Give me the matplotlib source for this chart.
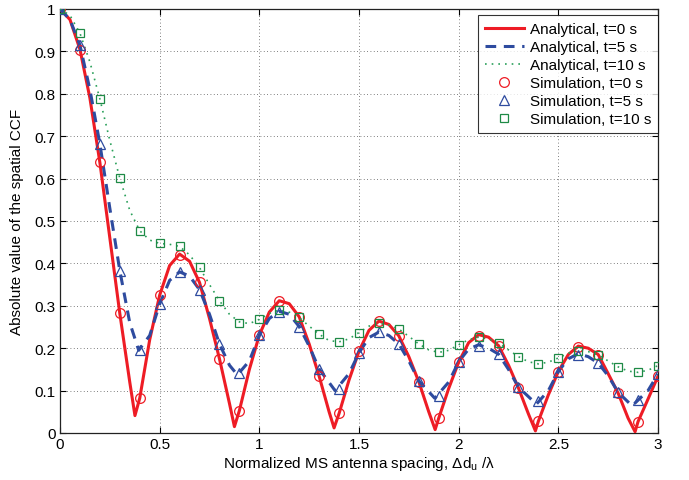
import numpy as np
import matplotlib
matplotlib.use("Agg")
import matplotlib.pyplot as plt

plt.rcParams['font.family'] = ['Liberation Sans', 'DejaVu Sans']
plt.rcParams['mathtext.default'] = 'regular'

# ---- analytical curves ----
x_a0 = [0, 0.05, 0.1, 0.15, 0.2, 0.25, 0.3, 0.35, 0.376, 0.4, 0.45, 0.5, 0.55, 0.6, 0.65, 0.7, 0.75, 0.8,
        0.85, 0.875, 0.9, 0.95, 1.0, 1.05, 1.1, 1.15, 1.2, 1.25, 1.3, 1.35, 1.375, 1.4, 1.45, 1.5, 1.55,
        1.6, 1.65, 1.7, 1.75, 1.8, 1.85, 1.882, 1.9, 1.95, 2.0, 2.05, 2.1, 2.15, 2.2, 2.25, 2.3, 2.35,
        2.385, 2.4, 2.45, 2.5, 2.55, 2.6, 2.65, 2.7, 2.75, 2.8, 2.85, 2.885, 2.9, 2.95, 3.0]
y_a0 = [1.0, 0.975, 0.905, 0.79, 0.638, 0.46, 0.282, 0.12, 0.041, 0.082, 0.22, 0.325, 0.395, 0.422, 0.405,
        0.355, 0.27, 0.175, 0.07, 0.015, 0.053, 0.15, 0.231, 0.285, 0.312, 0.305, 0.274, 0.21, 0.134, 0.05,
        0.012, 0.046, 0.125, 0.193, 0.242, 0.264, 0.256, 0.229, 0.18, 0.121, 0.05, 0.008, 0.035, 0.105,
        0.167, 0.213, 0.232, 0.226, 0.206, 0.16, 0.106, 0.045, 0.005, 0.028, 0.09, 0.145, 0.185, 0.205,
        0.2, 0.185, 0.14, 0.094, 0.035, 0.003, 0.027, 0.08, 0.134]

x_a5 = [0, 0.05, 0.1, 0.15, 0.2, 0.25, 0.3, 0.35, 0.395, 0.45, 0.5, 0.55, 0.6, 0.65, 0.7, 0.75, 0.8, 0.85,
        0.89, 0.95, 1.0, 1.05, 1.1, 1.15, 1.2, 1.25, 1.3, 1.38, 1.45, 1.5, 1.55, 1.6, 1.65, 1.7, 1.75, 1.8,
        1.88, 1.95, 2.0, 2.05, 2.1, 2.15, 2.2, 2.25, 2.3, 2.39, 2.45, 2.5, 2.55, 2.6, 2.65, 2.7, 2.75, 2.8,
        2.87, 2.95, 3.0]
y_a5 = [1.0, 0.975, 0.915, 0.81, 0.682, 0.53, 0.383, 0.26, 0.195, 0.23, 0.304, 0.36, 0.38, 0.37, 0.338,
        0.28, 0.21, 0.16, 0.137, 0.17, 0.23, 0.27, 0.287, 0.28, 0.251, 0.205, 0.151, 0.10, 0.14, 0.189,
        0.225, 0.238, 0.23, 0.21, 0.17, 0.123, 0.082, 0.12, 0.168, 0.198, 0.208, 0.2, 0.186, 0.15, 0.108,
        0.068, 0.1, 0.145, 0.175, 0.187, 0.18, 0.165, 0.135, 0.096, 0.064, 0.1, 0.139]

x_a10 = [0, 0.05, 0.1, 0.15, 0.2, 0.25, 0.3, 0.35, 0.4, 0.45, 0.5, 0.55, 0.6, 0.65, 0.7, 0.75, 0.8, 0.85,
         0.9, 0.95, 1.0, 1.05, 1.1, 1.15, 1.2, 1.25, 1.3, 1.35, 1.4, 1.45, 1.5, 1.55, 1.6, 1.65, 1.7, 1.75,
         1.8, 1.85, 1.9, 1.95, 2.0, 2.05, 2.1, 2.15, 2.2, 2.25, 2.3, 2.35, 2.4, 2.45, 2.5, 2.55, 2.6, 2.65,
         2.7, 2.75, 2.8, 2.85, 2.9, 2.95, 3.0]
y_a10 = [1.0, 0.985, 0.943, 0.875, 0.788, 0.69, 0.601, 0.525, 0.477, 0.455, 0.447, 0.445, 0.44, 0.42,
         0.39, 0.35, 0.312, 0.28, 0.262, 0.258, 0.268, 0.282, 0.29, 0.285, 0.272, 0.252, 0.233, 0.218,
         0.215, 0.222, 0.237, 0.252, 0.258, 0.255, 0.245, 0.228, 0.21, 0.196, 0.19, 0.195, 0.208, 0.22,
         0.226, 0.222, 0.212, 0.196, 0.18, 0.168, 0.163, 0.167, 0.177, 0.188, 0.194, 0.192, 0.184, 0.17,
         0.156, 0.146, 0.143, 0.148, 0.159]

# ---- simulation points ----
x_sim = [0.0, 0.1, 0.2, 0.3, 0.4, 0.5, 0.6, 0.7, 0.8, 0.9, 1.0, 1.1, 1.2, 1.3, 1.4, 1.5, 1.6, 1.7, 1.8, 1.9,
         2.0, 2.1, 2.2, 2.3, 2.4, 2.5, 2.6, 2.7, 2.8, 2.9, 3.0]
y_s0 = [1.0, 0.903, 0.638, 0.282, 0.082, 0.325, 0.42, 0.355, 0.175, 0.053, 0.23, 0.312, 0.274, 0.134,
        0.046, 0.193, 0.263, 0.229, 0.121, 0.035, 0.167, 0.229, 0.206, 0.106, 0.028, 0.145, 0.202, 0.185,
        0.094, 0.027, 0.134]
y_s5 = [1.0, 0.915, 0.682, 0.383, 0.196, 0.304, 0.379, 0.338, 0.21, 0.1415, 0.23, 0.285, 0.251, 0.151,
        0.104, 0.189, 0.2375, 0.21, 0.123, 0.088, 0.168, 0.206, 0.186, 0.108, 0.076, 0.145, 0.185, 0.165,
        0.096, 0.078, 0.139]
y_s10 = [1.0, 0.943, 0.788, 0.601, 0.477, 0.447, 0.44, 0.392, 0.312, 0.259, 0.269, 0.29, 0.274, 0.234,
         0.215, 0.237, 0.259, 0.245, 0.21, 0.19, 0.208, 0.226, 0.212, 0.18, 0.163, 0.177, 0.194, 0.185,
         0.156, 0.143, 0.159]

x_ticks = [0, 0.5, 1, 1.5, 2, 2.5, 3]
x_ticklabels = ['0', '0.5', '1', '1.5', '2', '2.5', '3']
y_ticks = [0, 0.1, 0.2, 0.3, 0.4, 0.5, 0.6, 0.7, 0.8, 0.9, 1]
y_ticklabels = ['0', '0.1', '0.2', '0.3', '0.4', '0.5', '0.6', '0.7', '0.8', '0.9', '1']

red = '#ee1c25'
blue = '#2e4b9f'
green_line = '#2aa05a'
green_mk = '#1e8a46'

fig = plt.figure(figsize=(6.89, 4.81), dpi=100)
ax = fig.add_axes([60 / 689, 47 / 481, 598 / 689, 424 / 481])

ax.plot(x_a0, y_a0, '-', color=red, lw=2.2, label='Analytical, t=0 s', zorder=3)
ax.plot(x_a5, y_a5, '--', color=blue, lw=2.2, dashes=(3.5, 2.5), label='Analytical, t=5 s', zorder=3)
ax.plot(x_a10, y_a10, ':', color=green_line, lw=1.2, dashes=(1, 3), label='Analytical, t=10 s', zorder=3)
ax.plot(x_sim, y_s0, 'o', ls='none', mfc='none', mec=red, ms=7, mew=0.9, label='Simulation, t=0 s', zorder=4)
ax.plot(x_sim, y_s5, '^', ls='none', mfc='none', mec=blue, ms=7.5, mew=0.9, label='Simulation, t=5 s', zorder=4)
ax.plot(x_sim, y_s10, 's', ls='none', mfc='none', mec=green_mk, ms=6, mew=0.9, label='Simulation, t=10 s', zorder=4)

ax.set_xlim(0, 3)
ax.set_ylim(0, 1)
ax.set_xticks(x_ticks)
ax.set_xticklabels(x_ticklabels)
ax.set_yticks(y_ticks)
ax.set_yticklabels(y_ticklabels)
ax.tick_params(direction='in', top=True, right=True, labelsize=11, length=4, width=0.8, pad=3)
ax.grid(True, ls=(0, (1, 3)), color='#555555', lw=0.6)
for s in ax.spines.values():
    s.set_linewidth(0.9)
    s.set_color('#222222')

ax.set_xlabel(r'Normalized MS antenna spacing, $\Delta$d$_{u}$ /$\lambda$', fontsize=11, labelpad=2)
ax.set_ylabel('Absolute value of the spatial CCF', fontsize=11, labelpad=8)

leg = ax.legend(loc='upper right', bbox_to_anchor=(1.0, 1 - 6 / 424), borderaxespad=0,
                fontsize=11, handlelength=2.55, handletextpad=0.4, labelspacing=0.27,
                frameon=True, fancybox=False, edgecolor='black', borderpad=0.45)
leg.get_frame().set_linewidth(0.8)

fig.savefig('out.png', dpi=100)
